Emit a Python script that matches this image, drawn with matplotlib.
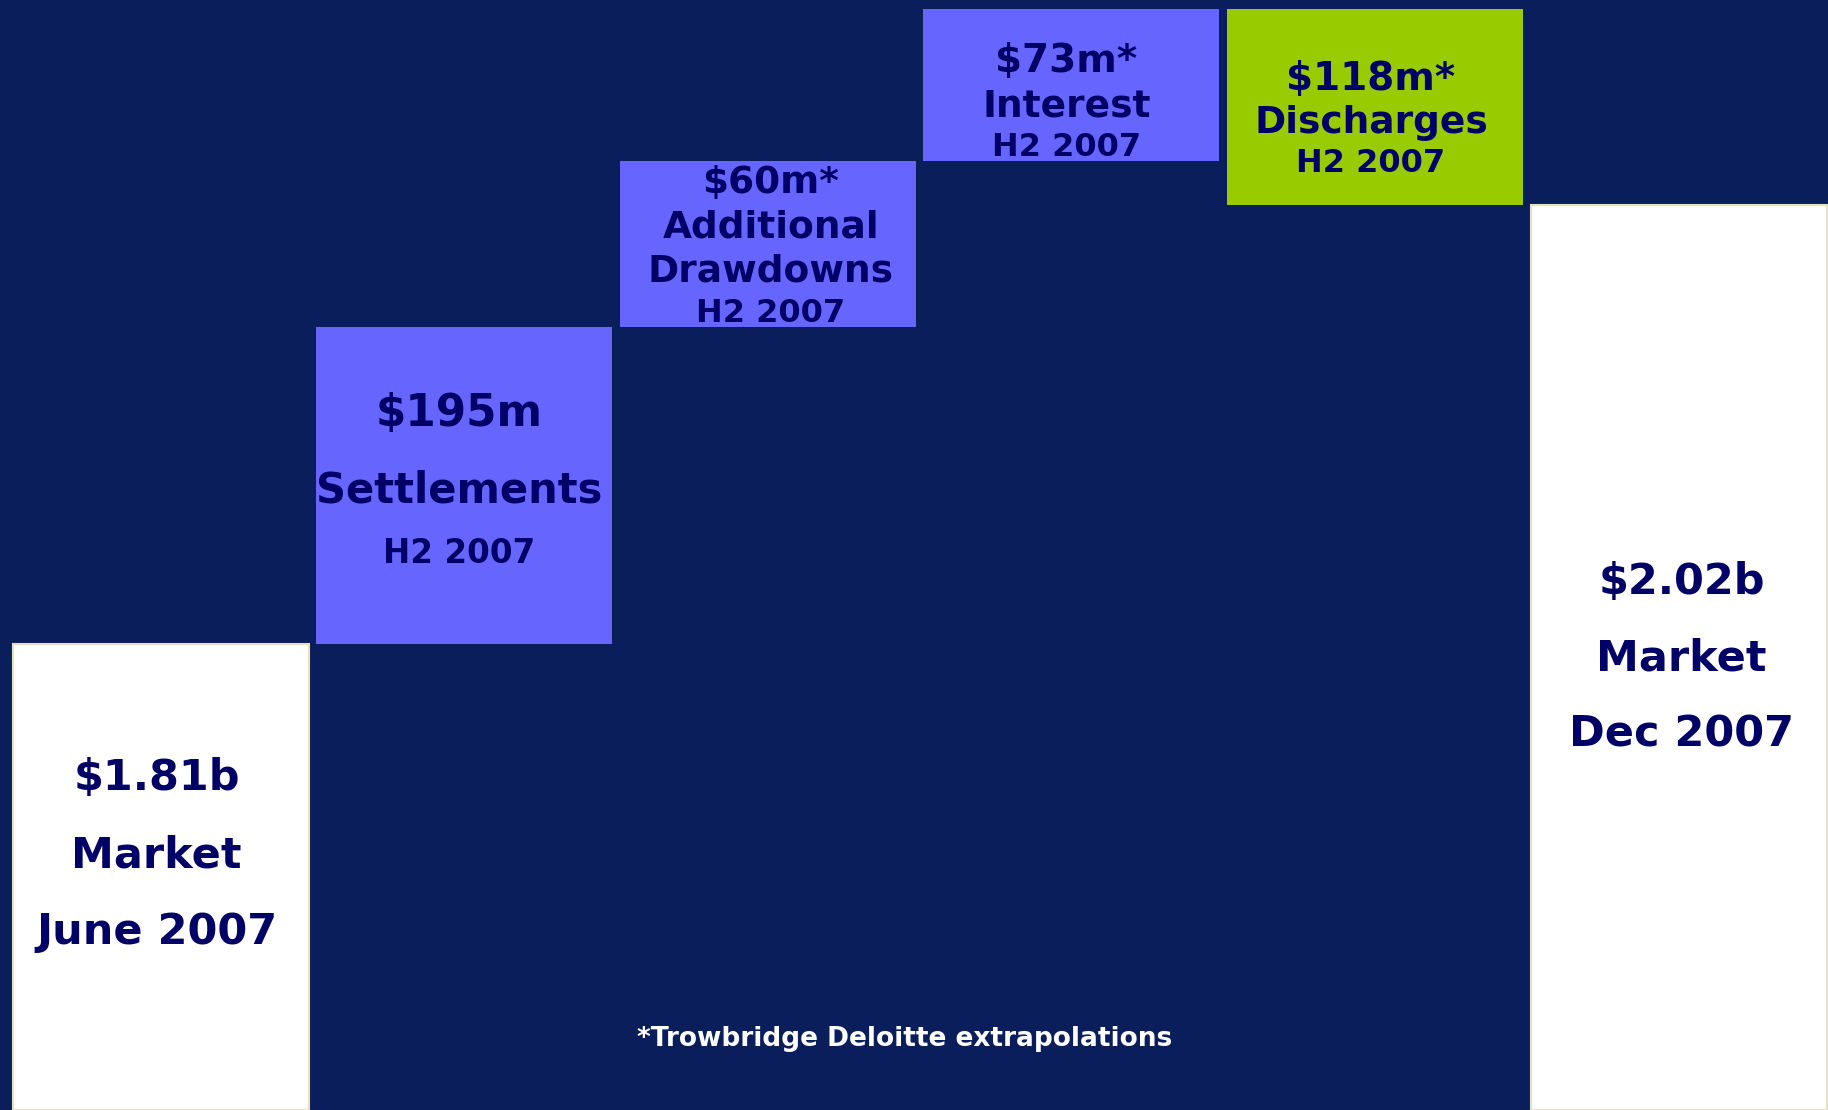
import numpy as np
import matplotlib
matplotlib.use("Agg")
import matplotlib.pyplot as plt

# Mortgage market movement, June -> Dec 2007 ($m)
steps = ["start", "delta", "delta", "delta", "delta", "total"]
values = [1810, 195, 60, 73, -118, 2020]

value_labels = ["$1.81b", "$195m", "$60m*", "$73m*", "$118m*", "$2.02b"]
name_labels = ["Market", "Settlements", "Additional\nDrawdowns", "Interest", "Discharges", "Market"]
period_labels = ["June 2007", "H2 2007", "H2 2007", "H2 2007", "H2 2007", "Dec 2007"]

footnote = "*Trowbridge Deloitte extrapolations"

# colours
navy = "#0A1E5B"
ink = "#000066"
bar_colors = ["white", "#6666FF", "#6666FF", "#6666FF", "#99CC00", "white"]

# the chart is not drawn to a linear scale: the steps are stretched so that
# every box is big enough to hold its label. piecewise-linear y scale.
scale_vals = [0, 1810, 2005, 2020, 2065, 2138, 2142]
scale_pos = [0, 466, 783, 905, 949, 1101, 1110]


def fwd(v):
    return np.interp(v, scale_vals, scale_pos)


def inv(p):
    return np.interp(p, scale_pos, scale_vals)


# bar bottoms / tops from the running total
bottoms, tops = [], []
running = 0
for kind, v in zip(steps, values):
    if kind == "delta":
        lo, hi = sorted([running, running + v])
        running += v
    else:
        lo, hi = 0, v
        running = v
    bottoms.append(lo)
    tops.append(hi)

fig = plt.figure(figsize=(18.28, 11.10), dpi=100, facecolor=navy)
ax = fig.add_axes([0, 0, 1, 1])
ax.set_facecolor(navy)
ax.set_yscale("function", functions=(fwd, inv))
pitch = 303.6
ax.set_xlim(-160.5 / pitch, (1828 - 160.5) / pitch)
ax.set_ylim(0, 2142)
ax.axis("off")

x = np.arange(len(values))
heights = np.array(tops) - np.array(bottoms)
edges = ["#E6DFC0" if c == "white" else "none" for c in bar_colors]
ax.bar(x, heights, bottom=bottoms, width=296 / pitch, color=bar_colors,
       edgecolor=edges, linewidth=1.5)

# label lines per box
text_lines = []
for i in range(len(values)):
    lines = [value_labels[i]] + name_labels[i].split("\n") + [period_labels[i]]
    text_lines.append(lines)

sizes = [
    [31, 31, 31],
    [31.5, 30, 23.5],
    [27, 27, 27, 23],
    [28, 27, 23],
    [28, 27, 23],
    [31, 31, 31],
]
# vertical gaps between lines, px
gaps = [
    [77, 77],
    [77, 63],
    [44, 44, 42],
    [45, 41],
    [44, 41],
    [77, 76],
]
shift = [-22, 0, 5, 20, 15, 1]  # px, downwards
nudge = [-4, -5, 3, -5, -4, 3]  # px, sideways

for i, lines in enumerate(text_lines):
    ymid = inv((fwd(bottoms[i]) + fwd(tops[i])) / 2)
    pos = np.concatenate([[0], np.cumsum(gaps[i])])
    pos = pos - pos.mean() + shift[i]
    for line, size, p in zip(lines, sizes[i], pos):
        ax.annotate(line, xy=(x[i], ymid), xytext=(nudge[i] * 0.72, -p * 0.72),
                    textcoords="offset points", ha="center", va="center",
                    fontsize=size, fontweight="bold", color=ink,
                    family="DejaVu Sans")

fig.text(0.495, 1 - 1039 / 1110, footnote, ha="center", va="center",
         fontsize=19, fontweight="bold", color="white", family="DejaVu Sans")

fig.savefig("out.png", dpi=100, facecolor=navy)
